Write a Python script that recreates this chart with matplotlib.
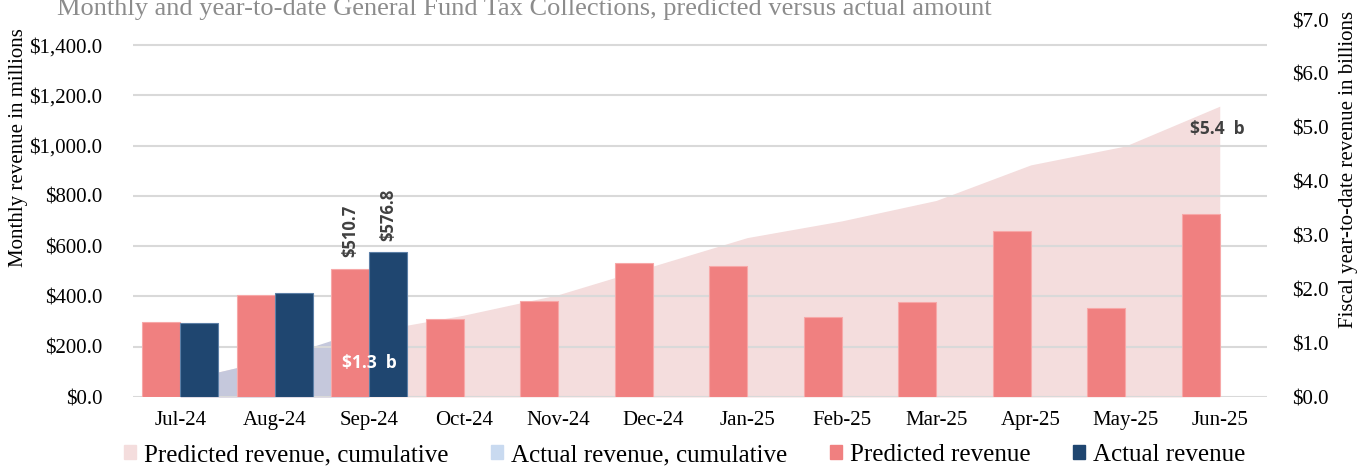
import matplotlib
matplotlib.use("Agg")
import matplotlib.pyplot as plt
from matplotlib.patches import Patch
import numpy as np

months = ["Jul-24", "Aug-24", "Sep-24", "Oct-24", "Nov-24", "Dec-24",
          "Jan-25", "Feb-25", "Mar-25", "Apr-25", "May-25", "Jun-25"]
predicted = [300.0, 405.0, 510.7, 312.0, 383.0, 533.0, 522.0, 318.0, 376.0, 662.0, 354.0, 728.0]
actual = [295.0, 412.0, 576.8]
predicted_cum = [0.30, 0.71, 1.21, 1.52, 1.90, 2.43, 2.96, 3.27, 3.65, 4.31, 4.66, 5.40]
actual_cum = [0.30, 0.71, 1.28]
left_ticks = [0, 200, 400, 600, 800, 1000, 1200, 1400]
right_ticks = [0, 1, 2, 3, 4, 5, 6, 7]

title = "Monthly and year-to-date General Fund Tax Collections, predicted versus actual amount"

C_PRED = "#F08080"
C_ACT = "#1F4670"
C_PCUM = "#F4DDDD"
C_ACUM = "#C5C8DC"
C_ACUM_LEG = "#C9DAF0"

serif = "Liberation Serif"
sans = "Open Sans"

fig = plt.figure(figsize=(13.69, 4.69), dpi=100)
ax = fig.add_axes([133/1369, 1-397/469, (1267-133)/1369, (397-20)/469])
ax2 = ax.twinx()
ax.set_zorder(ax2.get_zorder() + 1)
ax.patch.set_visible(False)

x = np.arange(len(months))
xa = np.arange(len(actual))
w = 0.40

# cumulative areas (right axis)
ax2.fill_between(x, predicted_cum, 0, color=C_PCUM, linewidth=0, zorder=1)
ax2.fill_between(xa, actual_cum, 0, color=C_ACUM, linewidth=0, zorder=2)
ax2.set_ylim(0, 7)
ax2.set_yticks(right_ticks)
ax2.set_yticklabels([f"${v:.1f}" for v in right_ticks], fontfamily=serif, fontsize=15)
ax2.tick_params(axis="y", length=0, pad=18)

# bars (left axis)
ax.bar(x - w/2, predicted, width=w, color=C_PRED, edgecolor="#F7A8A8", linewidth=0.8, zorder=3)
ax.bar(xa + w/2, actual, width=w, color=C_ACT, edgecolor="#5C7FA6", linewidth=0.8, zorder=3)
ax.set_ylim(0, 1500)
ax.set_xlim(-0.5, len(months) - 0.5)
ax.set_yticks(left_ticks)
ax.set_yticklabels([f"${v:,.1f}" for v in left_ticks], fontfamily=serif, fontsize=15)
ax.set_xticks(x)
ax.set_xticklabels(months, fontfamily=serif, fontsize=15)
ax.tick_params(axis="both", length=0)
ax.tick_params(axis="y", pad=22)
ax.tick_params(axis="x", pad=10)
ax.set_axisbelow(True)
ax.yaxis.grid(True, color="#D9D9D9", linewidth=1.5)

for a in (ax, ax2):
    for s in a.spines.values():
        s.set_visible(False)

# axis titles
fig.text(19/1369, 1-148/469, "Monthly revenue in millions", rotation=90, ha="center", va="center",
         fontfamily=serif, fontsize=15)
fig.text(1349/1369, 1-169/469, "Fiscal year-to-date revenue in billions", rotation=90, ha="center",
         va="center", fontfamily=serif, fontsize=15)

# data labels
ax.text(2 - w/2, predicted[2] + 45, f"${predicted[2]:.1f}", rotation=90, ha="center", va="bottom",
        fontfamily=sans, fontweight="bold", fontsize=12, color="#404040", zorder=5)
ax.text(2 + w/2, actual[2] + 45, f"${actual[2]:.1f}", rotation=90, ha="center", va="bottom",
        fontfamily=sans, fontweight="bold", fontsize=12, color="#404040", zorder=5)
ax.text(2, 135, f"${actual_cum[2]:.1f}  b", ha="center", va="center",
        fontfamily=sans, fontweight="bold", fontsize=12.5, color="white", zorder=6)
ax.text(11 - 0.03, 1068, f"${predicted_cum[11]:.1f}  b", ha="center", va="center",
        fontfamily=sans, fontweight="bold", fontsize=12.5, color="#404040", zorder=6)

fig.text(57/1369, 1-15/469, title, fontfamily=serif, fontsize=19, color="#8C8C8C",
         ha="left", va="baseline")

handles = [Patch(color=C_PCUM), Patch(color=C_ACUM_LEG), Patch(color=C_PRED), Patch(color=C_ACT)]
labels = ["Predicted revenue, cumulative", "Actual revenue, cumulative", "Predicted revenue", "Actual revenue"]
fig.legend(handles, labels, loc="center", bbox_to_anchor=(0.5, 1-455/469), ncol=4, frameon=False,
           prop={"family": serif, "size": 18}, handlelength=0.5, handleheight=0.5,
           handletextpad=0.3, columnspacing=1.7, borderpad=0, borderaxespad=0)

fig.savefig("out.png", dpi=100)
